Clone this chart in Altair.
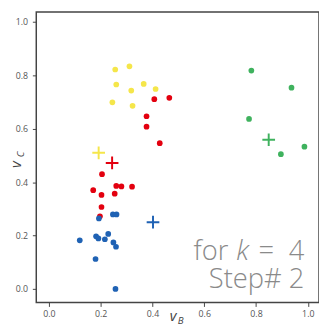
import altair as alt
import pandas as pd

# cluster members (v_B, v_C)
yellow_x = [0.256, 0.311, 0.260, 0.366, 0.318, 0.412, 0.245, 0.323]
yellow_y = [0.822, 0.834, 0.766, 0.768, 0.743, 0.749, 0.699, 0.686]
red_x = [0.407, 0.465, 0.377, 0.377, 0.428, 0.205, 0.171, 0.260, 0.280, 0.321, 0.203, 0.254, 0.203, 0.197]
red_y = [0.711, 0.716, 0.647, 0.608, 0.546, 0.430, 0.370, 0.386, 0.384, 0.383, 0.352, 0.357, 0.307, 0.272]
green_x = [0.782, 0.937, 0.773, 0.896, 0.987]
green_y = [0.818, 0.754, 0.637, 0.505, 0.533]
blue_x = [0.193, 0.247, 0.261, 0.182, 0.191, 0.216, 0.229, 0.119, 0.249, 0.259, 0.180, 0.257]
blue_y = [0.264, 0.279, 0.279, 0.197, 0.189, 0.186, 0.206, 0.182, 0.174, 0.158, 0.112, 0.0]

# centroids
cent_cluster = ["yellow", "red", "green", "blue"]
cent_x = [0.192, 0.244, 0.849, 0.402]
cent_y = [0.510, 0.472, 0.559, 0.250]

clusters = ["yellow", "red", "green", "blue"]
colors = ["#f5e64a", "#e3000f", "#3fb25e", "#1f62b4"]
ticks = [0.0, 0.2, 0.4, 0.6, 0.8, 1.0]

rows = []
for name, xs, ys in [("yellow", yellow_x, yellow_y), ("red", red_x, red_y),
                     ("green", green_x, green_y), ("blue", blue_x, blue_y)]:
    for a, b in zip(xs, ys):
        rows.append({"vB": a, "vC": b, "cluster": name})
pts = pd.DataFrame(rows)
cents = pd.DataFrame({"vB": cent_x, "vC": cent_y, "cluster": cent_cluster})

xscale = alt.Scale(domain=[-0.049, 1.0433], nice=False, zero=False)
yscale = alt.Scale(domain=[-0.051, 1.0376], nice=False, zero=False)
cscale = alt.Scale(domain=clusters, range=colors)

xaxis = alt.Axis(values=ticks, format=".1f", title=None, domain=False, grid=False,
                 tickSize=4, tickColor="#444", tickWidth=1, labelFontSize=9,
                 labelColor="#555", labelFont="Open Sans", labelPadding=3)
yaxis = alt.Axis(values=ticks, format=".1f", title=None, domain=False, grid=False,
                 tickSize=4, tickColor="#444", tickWidth=1, labelFontSize=9,
                 labelColor="#555", labelFont="Open Sans", labelPadding=5)

points = alt.Chart(pts).mark_circle(size=34, opacity=1).encode(
    x=alt.X("vB:Q", scale=xscale, axis=xaxis),
    y=alt.Y("vC:Q", scale=yscale, axis=yaxis),
    color=alt.Color("cluster:N", scale=cscale, legend=None),
)

plus = alt.Chart(cents).mark_point(
    shape="M-1,0L1,0M0,-1L0,1", size=169, filled=False, strokeWidth=2, opacity=1
).encode(
    x=alt.X("vB:Q", scale=xscale),
    y=alt.Y("vC:Q", scale=yscale),
    color=alt.Color("cluster:N", scale=cscale, legend=None),
)


def label(txt, x, y, size, italic=False, align="left", color="#8a8a8a", angle=0, weight=300, font="Open Sans"):
    kw = dict(fontSize=size, align=align, baseline="alphabetic", color=color,
              font=font, fontWeight=weight)
    if italic:
        kw["fontStyle"] = "italic"
    if angle:
        kw["angle"] = angle
    return alt.Chart(pd.DataFrame({"t": [txt]})).mark_text(**kw).encode(
        x=alt.value(x), y=alt.value(y), text="t:N")


texts = [
    label("for", 197, 254, 28, align="right"),
    label("k", 205, 254, 28, italic=True),
    label("=", 228, 254, 28),
    label("4", 259, 254, 28),
    label("Step# 2", 275, 283, 28, align="right"),
    label("v", 137, 317, 15, italic=True, color="#444", weight=400),
    label("B", 145, 320, 10, italic=True, color="#444", weight=400),
    label("v", -16, 160, 15, italic=True, color="#444", weight=400, angle=270),
    label("C", -13, 149, 10, italic=True, color="#444", weight=400, angle=270),
]

chart = alt.layer(points, plus, *texts).properties(
    width=290, height=298,
    autosize=alt.AutoSizeParams(type="none"),
    padding={"left": 29, "top": 0, "right": 0, "bottom": 20},
    background="white",
).configure_view(stroke="#444", strokeWidth=1.5)

chart.save("out.html", embed_options={"renderer": "svg", "actions": False})
